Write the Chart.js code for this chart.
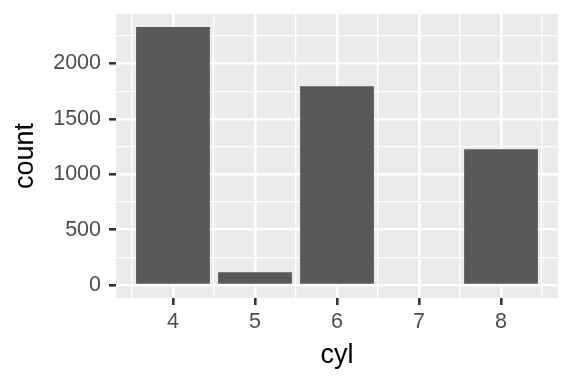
<!DOCTYPE html>
<html>
<head>
<meta charset="utf-8">
<script src="https://cdn.jsdelivr.net/npm/chart.js@4.4.1/dist/chart.umd.min.js"></script>
<style>
  html, body { margin: 0; padding: 0; background: #ffffff; }
  #wrap { width: 576px; height: 384px; }
</style>
</head>
<body>
<div id="wrap"><canvas id="grafico" width="576" height="384"></canvas></div>
<script>
// dados
const cilindros = [4, 5, 6, 7, 8];
const contagens = [2330, 117, 1795, 0, 1227];
const ticksX = [3.5, 4, 4.5, 5, 5.5, 6, 6.5, 7, 7.5, 8, 8.5];
const ticksY = [0, 250, 500, 750, 1000, 1250, 1500, 1750, 2000, 2250];

// fundo cinza do painel (estilo ggplot)
const fundoPainel = {
  id: "fundoPainel",
  beforeDraw(chart) {
    const a = chart.chartArea;
    const ctx = chart.ctx;
    ctx.save();
    ctx.fillStyle = "#EBEBEB";
    ctx.fillRect(a.left, a.top, a.right - a.left, a.bottom - a.top);
    ctx.restore();
  },
};

const ehMaiorX = (v) => Number.isInteger(v);
const ehMaiorY = (v) => v % 500 === 0;

const ctx = document.getElementById("grafico").getContext("2d");
new Chart(ctx, {
  type: "bar",
  data: {
    datasets: [
      {
        data: cilindros.map((c, i) => ({ x: c, y: contagens[i] })),
        backgroundColor: "#595959",
        borderWidth: 0,
        // o espaçamento mínimo vem dos ticks a cada 0.5, então 2 x 0.9
        barPercentage: 0.9,
        categoryPercentage: 2.0,
      },
    ],
  },
  options: {
    responsive: false,
    animation: false,
    layout: { padding: { top: 14, right: 18, left: 0, bottom: 0 } },
    plugins: { legend: { display: false }, tooltip: { enabled: false } },
    scales: {
      x: {
        type: "linear",
        min: 3.305,
        max: 8.695,
        offset: false,
        afterBuildTicks: (s) => { s.ticks = ticksX.map((v) => ({ value: v })); },
        afterFit: (s) => { s.height = 86; s.paddingLeft = 0; s.paddingRight = 0; },
        border: { display: false },
        grid: {
          offset: false,
          color: "#FFFFFF",
          lineWidth: (c) => (ehMaiorX(c.tick.value) ? 2.6 : 1.3),
          tickColor: (c) => (ehMaiorX(c.tick.value) ? "#333333" : "rgba(0,0,0,0)"),
          tickWidth: 2.6,
          tickLength: 7,
        },
        ticks: {
          autoSkip: false,
          maxRotation: 0,
          padding: 4,
          color: "#4D4D4D",
          font: { family: "Liberation Sans", size: 21.5 },
          callback: (v) => (ehMaiorX(v) ? String(v) : ""),
        },
        title: {
          display: true,
          text: "cyl",
          color: "#000000",
          font: { family: "Liberation Sans", size: 27 },
          padding: { top: 0, bottom: 12 },
        },
      },
      y: {
        min: -116.5,
        max: 2446.5,
        afterBuildTicks: (s) => { s.ticks = ticksY.map((v) => ({ value: v })); },
        afterFit: (s) => { s.width = 116; s.paddingTop = 0; s.paddingBottom = 0; },
        border: { display: false },
        grid: {
          color: "#FFFFFF",
          lineWidth: (c) => (ehMaiorY(c.tick.value) ? 2.6 : 1.3),
          tickColor: (c) => (ehMaiorY(c.tick.value) ? "#333333" : "rgba(0,0,0,0)"),
          tickWidth: 2.6,
          tickLength: 7,
        },
        ticks: {
          autoSkip: false,
          padding: 8,
          color: "#4D4D4D",
          font: { family: "Liberation Sans", size: 21.5 },
          callback: (v) => (ehMaiorY(v) ? String(v) : ""),
        },
        title: {
          display: true,
          text: "count",
          color: "#000000",
          font: { family: "Liberation Sans", size: 27 },
          padding: { top: 9, bottom: 0 },
        },
      },
    },
  },
  plugins: [fundoPainel],
});
</script>
</body>
</html>
